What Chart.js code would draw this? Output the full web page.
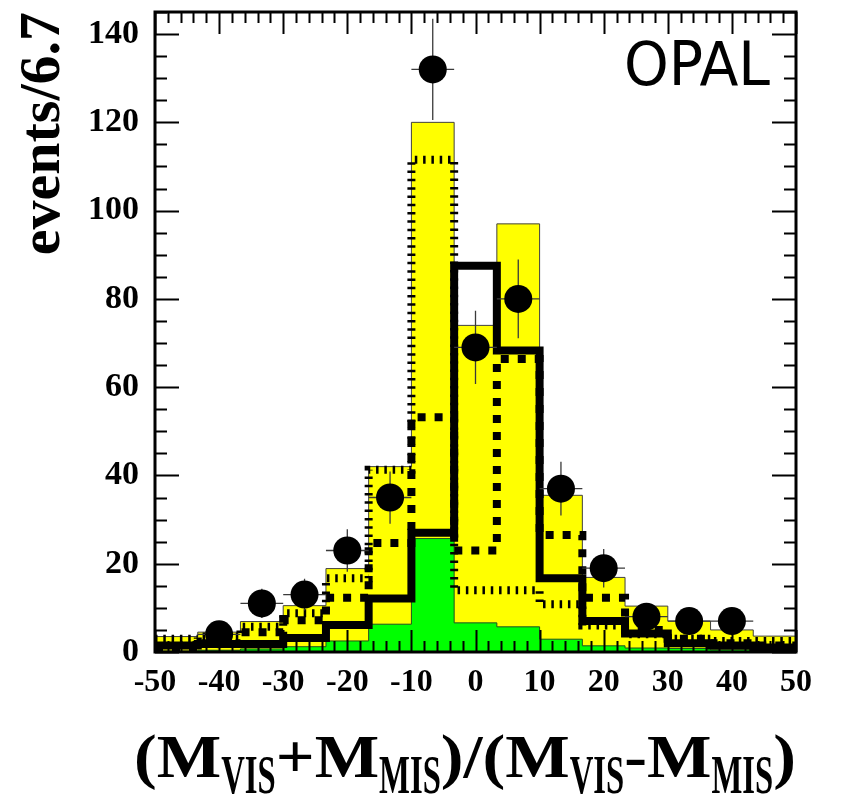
<!DOCTYPE html>
<html>
<head>
<meta charset="utf-8">
<script src="https://cdn.jsdelivr.net/npm/chart.js@4/dist/chart.umd.min.js"></script>
<style>
  html, body { margin: 0; padding: 0; background: #ffffff; }
  canvas { display: block; }
</style>
</head>
<body>
<canvas id="c" width="848" height="796"></canvas>
<script>
// Histogram binning: 15 bins of width 6.67 between -50 and 50
const binEdges   = [-50, -43.33, -36.67, -30, -23.33, -16.67, -10, -3.33, 3.33, 10, 16.67, 23.33, 30, 36.67, 43.33, 50];
const binCenters = [-46.67, -40, -33.33, -26.67, -20, -13.33, -6.67, 0, 6.67, 13.33, 20, 26.67, 33.33, 40, 46.67];

// Expected event counts per bin
const totalMC     = [3.5, 4.5, 6.9, 10.5, 18.9, 42, 120, 74, 97, 35.5, 16.9, 10.4, 7, 5, 3.6];
const background  = [0.2, 0.4, 0.7, 1.2, 2.5, 6.3, 25.7, 6.6, 5.7, 2.9, 1.4, 0.9, 0.8, 0.5, 0.3];
const fineDotted  = [3, 3.5, 5.7, 8.8, 16.7, 41.3, 111.5, 14, 14, 10.8, 6, 4, 3, 2.5, 2.5];
const thickDotted = [1, 2, 4.5, 7.2, 12.3, 24.7, 53.2, 23, 66.4, 26.5, 12.3, 5, 3, 2, 1.5];
const solidLine   = [1.5, 1.8, 1.8, 3.2, 6.1, 12.1, 27, 87.5, 68.3, 16.7, 7, 4.2, 2, 1.5, 1];

// Observed events per bin (empty bins carry no marker)
const observed    = [null, 4, 11, 13, 23, 35, 132, 69, 80, 37, 19, 8, 7, 7, null];

// Axis labelling
const xTickValues = [-50, -40, -30, -20, -10, 0, 10, 20, 30, 40, 50];
const yTickValues = [0, 20, 40, 60, 80, 100, 120, 140];
const yTitle = 'events/6.7';
const xTitleParts = [
  ['(', false], ['M', false], ['VIS', true], ['+', false], ['M', false], ['MIS', true],
  [')', false], ['/', false], ['(', false], ['M', false], ['VIS', true], ['-', false],
  ['M', false], ['MIS', true], [')', false]
];
const experimentLabel = 'OPAL';

// Turn per-bin contents into step-line points (left edge of each bin, plus closing edge)
function histPoints(values) {
  const pts = values.map((v, i) => ({ x: binEdges[i], y: v }));
  pts.push({ x: binEdges[binEdges.length - 1], y: values[values.length - 1] });
  return pts;
}

const SERIF = '"Liberation Serif", "Times New Roman", serif';

function noPadding(s) {
  s.paddingTop = 0; s.paddingBottom = 0; s.paddingLeft = 0; s.paddingRight = 0;
}

const framePlugin = {
  id: 'framePlugin',
  beforeDatasetDraw(chart, args) {
    if (chart.data.datasets[args.index].role !== 'data') return;
    const { ctx, scales: { x, y } } = chart;
    ctx.save();
    ctx.strokeStyle = '#3a3a3a';
    ctx.lineWidth = 1.3;
    observed.forEach((v, i) => {
      if (v == null) return;
      const err = Math.sqrt(v);
      const px = x.getPixelForValue(binCenters[i]);
      const py = y.getPixelForValue(v);
      ctx.beginPath();
      ctx.moveTo(px, y.getPixelForValue(v + err));
      ctx.lineTo(px, y.getPixelForValue(Math.max(0, v - err)));
      ctx.moveTo(x.getPixelForValue(binEdges[i]), py);
      ctx.lineTo(x.getPixelForValue(binEdges[i + 1]), py);
      ctx.stroke();
    });
    ctx.restore();
  },
  afterDraw(chart) {
    const { ctx, chartArea: a, scales: { x, y } } = chart;
    ctx.save();
    // inward tick marks on all four sides
    ctx.strokeStyle = '#000';
    ctx.lineWidth = 2;
    ctx.beginPath();
    for (let v = -50; v <= 50; v += 2) {
      const px = Math.round(x.getPixelForValue(v)) + 0.5;
      const len = (v % 10 === 0) ? 22 : 11;
      ctx.moveTo(px, a.bottom); ctx.lineTo(px, a.bottom - len);
      ctx.moveTo(px, a.top); ctx.lineTo(px, a.top + len);
    }
    for (let v = 0; v <= 145; v += 5) {
      const py = Math.round(y.getPixelForValue(v)) + 0.5;
      const len = (v % 20 === 0) ? 24 : 12;
      ctx.moveTo(a.left, py); ctx.lineTo(a.left + len, py);
      ctx.moveTo(a.right, py); ctx.lineTo(a.right - len, py);
    }
    ctx.stroke();
    // frame
    ctx.lineWidth = 3;
    ctx.strokeRect(a.left, a.top, a.right - a.left, a.bottom - a.top);

    // experiment label
    ctx.fillStyle = '#000';
    ctx.font = '400 60px "DejaVu Sans", "Liberation Sans", sans-serif';
    ctx.textBaseline = 'alphabetic';
    ctx.textAlign = 'left';
    const w = ctx.measureText(experimentLabel).width;
    ctx.save();
    ctx.translate(624, 85);
    ctx.scale(146 / w, 1);
    ctx.fillText(experimentLabel, 0, 0);
    ctx.restore();

    // horizontal axis title with subscripts
    const mainFont = 'bold 62px ' + SERIF;
    const subFont = 'bold 54px ' + SERIF;
    const subSqueeze = 0.55;
    let total = 0;
    const widths = xTitleParts.map(([t, sub]) => {
      ctx.font = sub ? subFont : mainFont;
      const wd = ctx.measureText(t).width * (sub ? subSqueeze : 1);
      total += wd;
      return wd;
    });
    const x0 = 134, x1 = 796;
    const stretch = (x1 - x0) / total;
    let cx = x0;
    xTitleParts.forEach(([t, sub], i) => {
      ctx.font = sub ? subFont : mainFont;
      ctx.save();
      ctx.translate(cx, sub ? 793 : 777);
      ctx.scale(stretch * (sub ? subSqueeze : 1), 1);
      ctx.fillText(t, 0, 0);
      ctx.restore();
      cx += widths[i] * stretch;
    });
    ctx.restore();
  }
};

const stepStyle = { stepped: true, pointRadius: 0, pointHoverRadius: 0, tension: 0 };

new Chart(document.getElementById('c'), {
  type: 'line',
  data: {
    datasets: [
      { ...stepStyle, label: 'total', data: histPoints(totalMC), fill: 'origin',
        backgroundColor: '#ffff00', borderColor: '#404040', borderWidth: 1, order: 10 },
      { ...stepStyle, label: 'background', data: histPoints(background), fill: 'origin',
        backgroundColor: '#00ff00', borderColor: '#205020', borderWidth: 1, order: 9 },
      { ...stepStyle, label: 'fine dotted', data: histPoints(fineDotted), fill: false,
        borderColor: '#000', borderWidth: 8, borderDash: [2.5, 5.8], order: 8 },
      { ...stepStyle, label: 'thick dotted', data: histPoints(thickDotted), fill: false,
        borderColor: '#000', borderWidth: 8, borderDash: [8, 9], order: 7 },
      { ...stepStyle, label: 'solid', data: histPoints(solidLine), fill: false,
        borderColor: '#000', borderWidth: 8, order: 6 },
      { label: 'data', role: 'data', type: 'scatter',
        data: binCenters.map((c, i) => ({ x: c, y: observed[i] })),
        showLine: false, pointRadius: 14, pointHoverRadius: 14,
        backgroundColor: '#000', borderColor: '#000', borderWidth: 0, order: 1 }
    ]
  },
  options: {
    responsive: false,
    animation: false,
    devicePixelRatio: 1,
    events: [],
    layout: { autoPadding: false, padding: { left: 0, right: 52, top: 12, bottom: 0 } },
    plugins: { legend: { display: false }, tooltip: { enabled: false }, title: { display: false } },
    scales: {
      x: {
        type: 'linear', min: -50, max: 50,
        grid: { display: false, drawTicks: false },
        border: { display: false },
        afterBuildTicks: s => { s.ticks = xTickValues.map(v => ({ value: v })); },
        afterFit: s => { s.height = 144; noPadding(s); },
        ticks: { color: '#000', padding: 12, maxRotation: 0, autoSkip: false,
                 font: { family: SERIF, weight: 'bold', size: 32 } }
      },
      y: {
        type: 'linear', min: 0, max: 145,
        grid: { display: false, drawTicks: false },
        border: { display: false },
        afterBuildTicks: s => { s.ticks = yTickValues.map(v => ({ value: v })); },
        afterFit: s => { s.width = 155; noPadding(s); },
        ticks: { color: '#000', padding: 16, autoSkip: false,
                 font: { family: SERIF, weight: 'bold', size: 34 } },
        title: { display: true, text: yTitle, align: 'end', color: '#000',
                 padding: { top: 9, bottom: 0 },
                 font: { family: SERIF, weight: 'bold', size: 58 } }
      }
    }
  },
  plugins: [framePlugin]
});
</script>
</body>
</html>
